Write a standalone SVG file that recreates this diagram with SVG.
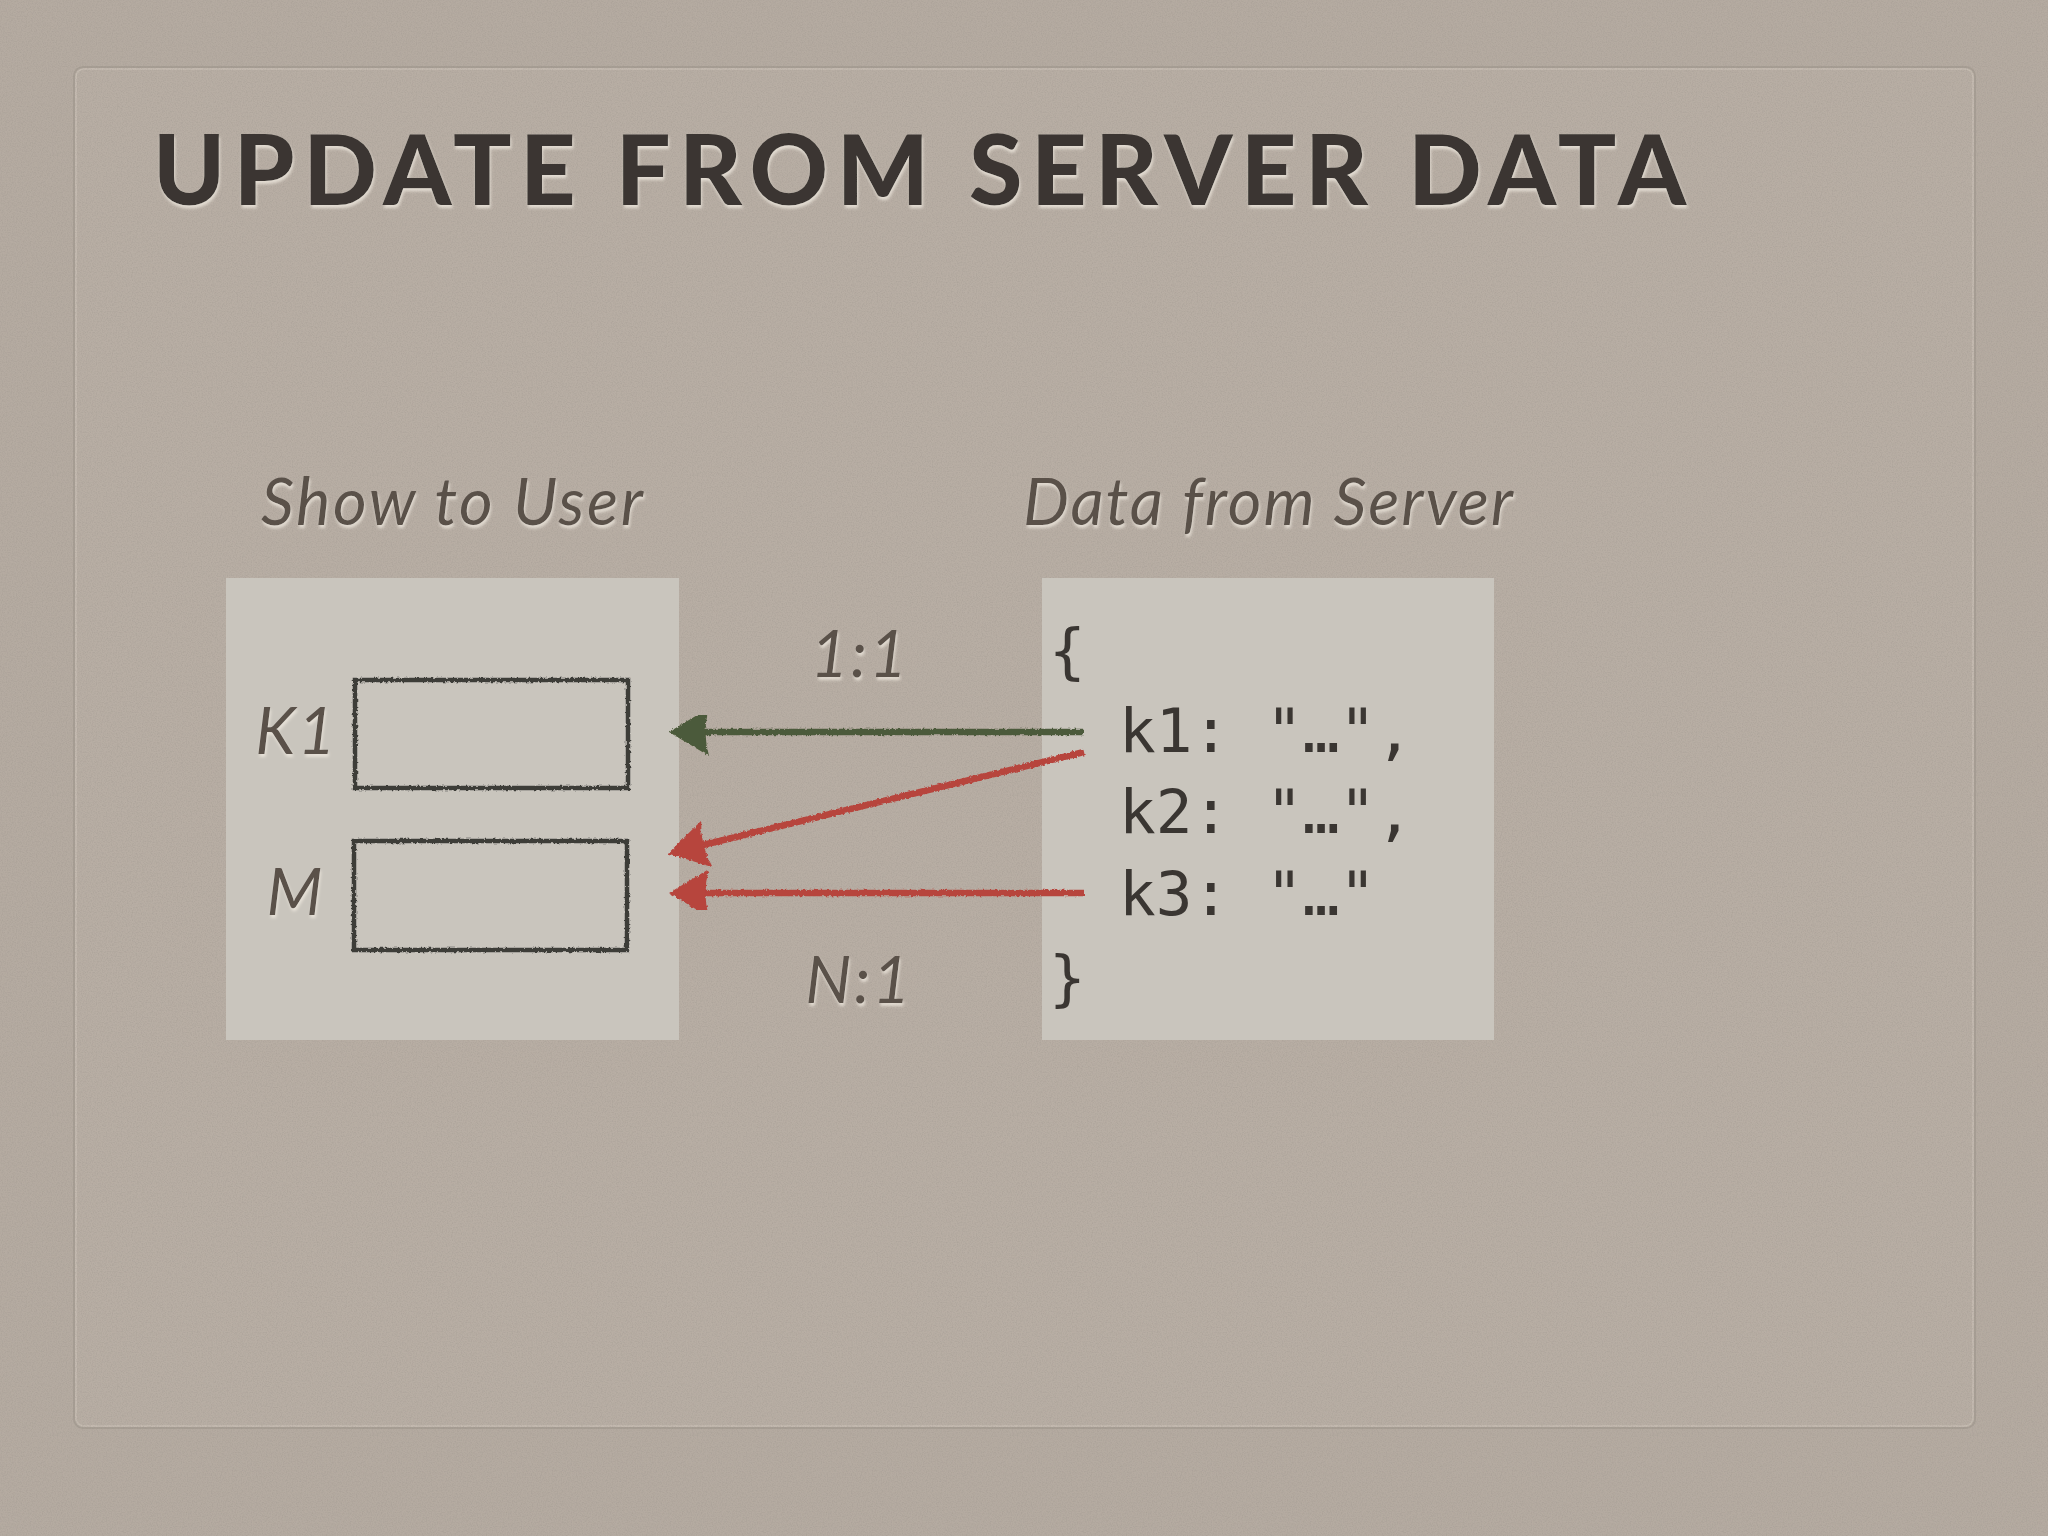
<svg xmlns="http://www.w3.org/2000/svg" width="2048" height="1536" viewBox="0 0 2048 1536">
  <style>
    .title { font-family: "Lato", "Liberation Sans", sans-serif; font-weight: 900; font-size: 97px; letter-spacing: 8.5px; fill: #3a3632; }
    .label { font-family: "Lato", "Liberation Sans", sans-serif; font-style: italic; font-size: 65px; letter-spacing: 2.5px; fill: #5a514a; }
    .code { font-family: "DejaVu Sans Mono", "Liberation Mono", monospace; font-size: 61px; fill: #3a3632; }
    .panel { fill: #c9c5bd; }
    .box { fill: none; stroke: #3e3c39; stroke-width: 4.5; }
    .green { stroke: #4c5a3a; stroke-width: 6.5; fill: none; }
    .red { stroke: #b7443d; stroke-width: 6.5; fill: none; }
  </style>
  <defs>
    <filter id="paper" x="0" y="0" width="100%" height="100%">
      <feTurbulence type="fractalNoise" baseFrequency="0.8" numOctaves="3" seed="3" result="n"/>
      <feColorMatrix in="n" type="matrix" values="0 0 0 0 0.30  0 0 0 0 0.27  0 0 0 0 0.24  0.6 0 0 0 -0.22" result="c"/>
      <feComposite in="c" in2="SourceGraphic" operator="in"/>
    </filter>
    <filter id="emboss" x="-5%" y="-20%" width="110%" height="150%">
      <feGaussianBlur in="SourceAlpha" stdDeviation="1.5" result="b"/>
      <feOffset in="b" dx="1" dy="3" result="o"/>
      <feFlood flood-color="#f1ebe1" flood-opacity="0.75"/>
      <feComposite in2="o" operator="in" result="s"/>
      <feMerge><feMergeNode in="s"/><feMergeNode in="SourceGraphic"/></feMerge>
    </filter>
    <filter id="rough" x="-10%" y="-10%" width="120%" height="120%">
      <feTurbulence type="fractalNoise" baseFrequency="0.35" numOctaves="2" seed="7" result="t"/>
      <feDisplacementMap in="SourceGraphic" in2="t" scale="3.5" xChannelSelector="R" yChannelSelector="G"/>
    </filter>
    <marker id="headGreen" markerUnits="userSpaceOnUse" viewBox="0 -27 44 54" refX="4" refY="0" markerWidth="44" markerHeight="54" orient="auto">
      <path d="M0,-24 L40,0 L0,24 Q7,0 0,-24 Z" fill="#4c5a3a"/>
    </marker>
    <marker id="headRed" markerUnits="userSpaceOnUse" viewBox="0 -27 44 54" refX="4" refY="0" markerWidth="44" markerHeight="54" orient="auto">
      <path d="M0,-24 L40,0 L0,24 Q7,0 0,-24 Z" fill="#b7443d"/>
    </marker>
  </defs>

  <!-- background -->
  <rect x="0" y="0" width="2048" height="1536" fill="#b5aba1"/>
  <rect x="74" y="67" width="1901" height="1361" rx="9" fill="#b8aea4" stroke="#a79e94" stroke-width="2"/>
  <rect x="76" y="69" width="1897" height="1357" rx="8" fill="none" stroke="#c6bdb2" stroke-width="1.5"/>
  <rect x="0" y="0" width="2048" height="1536" fill="#000" filter="url(#paper)"/>

  <g id="title" filter="url(#emboss)">
    <text class="title" x="153" y="205">UPDATE FROM SERVER DATA</text>
  </g>

  <g id="show-to-user">
    <text class="label" x="261" y="525" filter="url(#emboss)">Show to User</text>
    <rect class="panel" x="226" y="578" width="453" height="462"/>
    <text class="label" x="338" y="754" text-anchor="end" filter="url(#emboss)">K1</text>
    <text class="label" x="325" y="915" text-anchor="end" filter="url(#emboss)">M</text>
    <g filter="url(#rough)">
      <rect id="box-k1" class="box" x="355" y="680" width="273" height="108"/>
      <rect id="box-m" class="box" x="354" y="841" width="273" height="109"/>
    </g>
  </g>

  <g id="data-from-server">
    <text class="label" x="1023" y="525" style="letter-spacing:1.9px" filter="url(#emboss)">Data from Server</text>
    <rect class="panel" x="1042" y="578" width="452" height="462"/>
    <text class="code" x="1049" y="672">{</text>
    <text class="code" x="1119" y="752">k1: "…",</text>
    <text class="code" x="1119" y="833">k2: "…",</text>
    <text class="code" x="1119" y="915">k3: "…"</text>
    <text class="code" x="1049" y="999">}</text>
  </g>

  <g id="ratio-labels" filter="url(#emboss)">
    <text class="label" x="860" y="677" text-anchor="middle">1:1</text>
    <text class="label" x="859" y="1003" text-anchor="middle">N:1</text>
  </g>

  <g id="connectors" filter="url(#rough)">
    <path class="green" d="M1084,732 L705,732" marker-end="url(#headGreen)"/>
    <path class="red" d="M1084,752 L703,845" marker-end="url(#headRed)"/>
    <path class="red" d="M1084,893 L705,893" marker-end="url(#headRed)"/>
  </g>
</svg>
